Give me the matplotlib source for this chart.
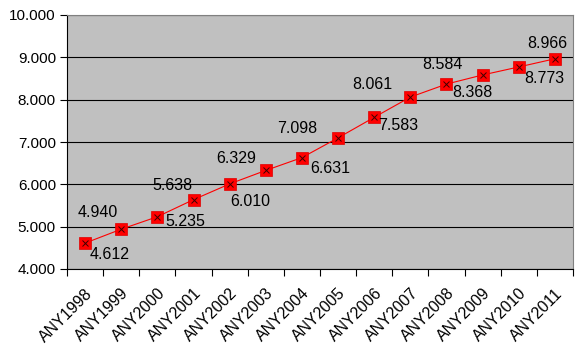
import numpy as np
import matplotlib
matplotlib.use("Agg")
from matplotlib import pyplot as plt
from matplotlib.ticker import FuncFormatter, FixedLocator
from matplotlib.transforms import offset_copy

years = ["ANY1998", "ANY1999", "ANY2000", "ANY2001", "ANY2002", "ANY2003", "ANY2004",
         "ANY2005", "ANY2006", "ANY2007", "ANY2008", "ANY2009", "ANY2010", "ANY2011"]
values = [4612, 4940, 5235, 5638, 6010, 6329, 6631, 7098, 7583, 8061, 8368, 8584, 8773, 8966]

# label offsets in pixels (dx right, dy down) - layout only
label_dx = [25, -23, 28, -21, 21, -30, 28, -41, 24, -38, 26, -40, 26, -8]
label_dy = [11, -17, 5, -14, 18, -12, 11, -9, 8, -13, 8, -10, 12, -15]

plt.rcParams['font.family'] = ['Liberation Sans', 'DejaVu Sans']
dpi = 100
fig = plt.figure(figsize=(5.83, 3.55), dpi=dpi)
ax = fig.add_axes([67/583, 86/355, 506/583, 254/355])
ax.set_facecolor("#C0C0C0")

x = np.arange(len(years))
ax.plot(x, values, color="#FF0000", lw=0.8, zorder=3)
ax.plot(x, values, ls="none", marker="s", ms=8, mfc="#FF0000", mec="#E00000", mew=0.5, zorder=4)
ax.plot(x, values, ls="none", marker="x", ms=5, mec="#400000", mew=0.7, zorder=5)

for i, v in enumerate(values):
	tr = offset_copy(ax.transData, fig=fig, x=label_dx[i]*72/dpi, y=-label_dy[i]*72/dpi, units='points')
	ax.text(i, v, f"{v/1000:.3f}", transform=tr, ha="center", va="center", fontsize=11.5, zorder=6)

ax.set_xlim(-0.5, len(years)-0.5)
ax.set_ylim(4000, 10000)
ax.set_yticks(np.arange(4000, 10001, 1000))
ax.yaxis.set_major_formatter(FuncFormatter(lambda v, p: f"{v:,.0f}".replace(",", ".")))
ax.grid(axis="y", color="black", lw=0.8)
ax.set_axisbelow(True)

ax.set_xticks(x)
ax.set_xticklabels(years, rotation=45, ha="right", rotation_mode="anchor", fontsize=11.5)
ax.xaxis.set_minor_locator(FixedLocator(np.arange(-0.5, len(years), 1)))
ax.tick_params(axis="x", which="major", length=0, pad=12)
ax.tick_params(axis="x", which="minor", length=5, width=0.8, color="black")
ax.tick_params(axis="y", length=5, width=0.8, labelsize=11, pad=3)

ax.spines["left"].set_color("black")
ax.spines["bottom"].set_color("black")
ax.spines["top"].set_color("#808080")
ax.spines["right"].set_color("#808080")

fig.savefig("out.png", dpi=dpi)
